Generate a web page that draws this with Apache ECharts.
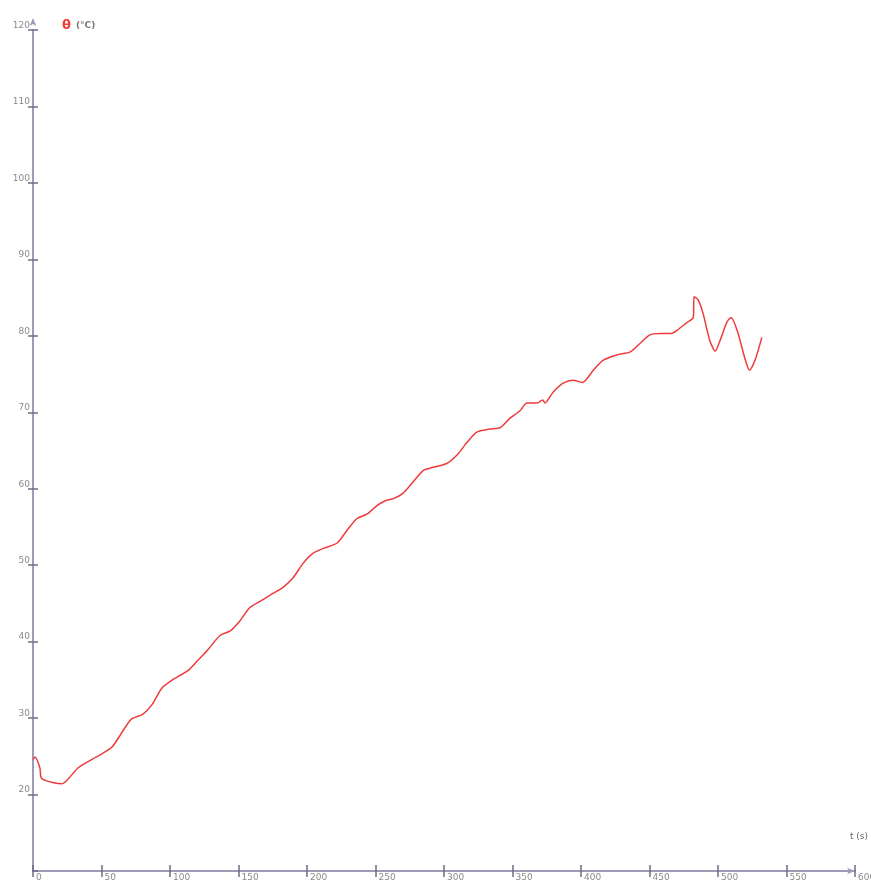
<!DOCTYPE html>
<html>
<head>
<meta charset="utf-8">
<script src="https://cdn.jsdelivr.net/npm/echarts@6/dist/echarts.min.js"></script>
<style>
  html, body { margin: 0; padding: 0; background: #fff; }
  #main { width: 871px; height: 884px; }
</style>
</head>
<body>
<div id="main"></div>
<script>
// time (s) and temperature (°C)
const timeS = [0, 1.5, 5, 6.3, 16, 21, 25.5, 33, 43, 50, 58, 67, 72, 80, 87, 94, 101, 113, 120, 127,
  136.5, 144, 151, 158, 166, 175, 182.5, 190, 197, 204, 212, 222, 229, 236.5, 244, 251, 258, 263,
  270, 277, 285, 292, 302, 309.5, 317, 324, 333.5, 341, 348, 355.5, 360.5, 368, 372, 373.7, 379.5,
  387, 394, 401, 409, 416, 426, 436, 443, 450, 458, 466, 470, 477, 482, 482.5, 485.5, 489, 494, 498,
  501.5, 506.5, 509.5, 514, 520, 523, 527, 532];
const tempC = [24.6, 24.9, 23.5, 22.1, 21.5, 21.4, 22.0, 23.5, 24.6, 25.3, 26.3, 28.7, 29.9, 30.5, 31.8, 33.9, 34.9, 36.2, 37.5, 38.8,
  40.8, 41.4, 42.7, 44.4, 45.3, 46.3, 47.1, 48.4, 50.2, 51.5, 52.2, 52.9, 54.5, 56.1, 56.7, 57.8, 58.5, 58.7,
  59.4, 60.8, 62.4, 62.8, 63.3, 64.4, 66.1, 67.4, 67.8, 68.0, 69.2, 70.2, 71.2, 71.2, 71.6, 71.2, 72.6,
  73.8, 74.2, 73.9, 75.5, 76.8, 77.5, 77.9, 79.0, 80.1, 80.3, 80.3, 80.7, 81.7, 82.4, 85.1, 84.7, 83.0, 79.4, 78.0,
  79.4, 81.8, 82.4, 80.7, 76.8, 75.5, 76.8, 79.8];

const axisColor = '#9c9cba';
const labelColor = '#8a8a8a';

let myChart = echarts.init(document.getElementById('main'));
myChart.setOption({
  animation: false,
  title: {
    text: '{a|θ} {b|(°C)}',
    left: 57, top: 12,
    textStyle: {
      rich: {
        a: { color: '#ee3b3b', fontSize: 13, fontFamily: 'DejaVu Sans' },
        b: { color: '#777', fontSize: 9, fontFamily: 'DejaVu Sans' }
      }
    }
  },
  graphic: [{
    type: 'text', right: 3, top: 832,
    style: { text: 't (s)', fill: '#666', fontSize: 9, fontFamily: 'DejaVu Sans' }
  }],
  grid: { left: 33, right: 16, top: 30, bottom: 13, outerBoundsMode: 'none', containLabel: false },
  xAxis: [{
    type: 'value', min: 0, max: 600, interval: 50,
    splitLine: { show: false },
    axisLine: { lineStyle: { color: axisColor, width: 2 }, symbol: ['none', 'arrow'], symbolSize: [5, 8] },
    axisTick: { lineStyle: { color: '#6c6c8a', width: 1.5 }, length: 6 },
    axisLabel: { color: labelColor, fontSize: 9, align: 'left', margin: 2, padding: [0, 0, 0, 3], fontFamily: 'DejaVu Sans' }
  }, {
    type: 'value', min: 0, max: 600, interval: 50, position: 'bottom',
    splitLine: { show: false },
    axisLine: { show: false },
    axisTick: { inside: true, lineStyle: { color: '#6c6c8a', width: 1.5 }, length: 6 },
    axisLabel: { show: false }
  }],
  yAxis: [{
    type: 'value', min: 10, max: 120, interval: 10,
    splitLine: { show: false },
    axisLine: { lineStyle: { color: axisColor, width: 2 }, symbol: ['none', 'arrow'], symbolSize: [5, 8], symbolOffset: [0, 12] },
    axisTick: { lineStyle: { color: '#6c6c8a', width: 1.5 }, length: 5 },
    axisLabel: { color: labelColor, fontSize: 9, margin: 3, verticalAlign: 'bottom', showMinLabel: false, fontFamily: 'DejaVu Sans' }
  }, {
    type: 'value', min: 10, max: 120, interval: 10, position: 'left',
    splitLine: { show: false },
    axisLine: { show: false },
    axisTick: { inside: true, lineStyle: { color: '#6c6c8a', width: 1.5 }, length: 5 },
    axisLabel: { show: false }
  }],
  series: [{
    type: 'line',
    data: timeS.map((t, i) => [t, tempC[i]]),
    showSymbol: false,
    smooth: 0.25,
    lineStyle: { color: '#ee3b3b', width: 1.5 },
    itemStyle: { color: '#ee3b3b' }
  }]
});
</script>
</body>
</html>
